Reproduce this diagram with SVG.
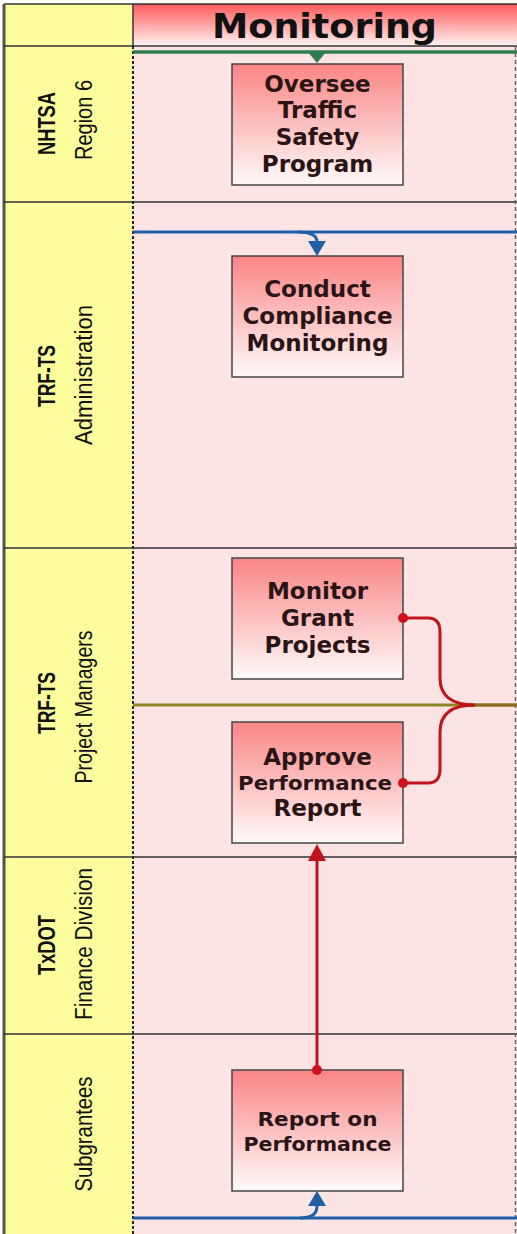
<svg xmlns="http://www.w3.org/2000/svg" width="517" height="1234" viewBox="0 0 517 1234">
<defs>
<linearGradient id="hdr" x1="0" y1="0" x2="0" y2="1">
<stop offset="0" stop-color="#ff5a5a"/>
<stop offset="1" stop-color="#fff2f2"/>
</linearGradient>
<linearGradient id="box" x1="0" y1="0" x2="0" y2="1">
<stop offset="0" stop-color="#fa8585"/>
<stop offset="1" stop-color="#fffafa"/>
</linearGradient>
<style>
.lanebg{fill:#fde4e4}
.lblbg{fill:#fdfd9e}
.lane{stroke:#333;stroke-width:1.5;fill:none}
.node rect{fill:url(#box);stroke:#444;stroke-width:1.5}
.node text{font-family:"DejaVu Sans",sans-serif;font-weight:bold;fill:#2a1414;text-anchor:middle}
.lbl{font-family:"Liberation Sans",Arial,sans-serif;font-size:23px;fill:#111;text-anchor:middle}
.lbl .b{font-weight:bold}
.red{stroke:#c0141c;stroke-width:3;fill:none}
.blue{stroke:#1f5fa8;stroke-width:3;fill:none}
.green{stroke:#2e7d4f;stroke-width:3.5;fill:none}
.olive{stroke:#8a8a24;stroke-width:3;fill:none}
</style>
</defs>

<g id="background">
<rect x="0" y="0" width="517" height="1234" fill="#ffffff"/>
<rect x="133" y="46" width="384" height="1188" class="lanebg"/>
<rect x="4" y="4" width="129" height="1230" class="lblbg"/>
<rect x="133" y="4" width="384" height="42" fill="url(#hdr)"/>
</g>

<g id="lanes">
<line x1="4" y1="4" x2="517" y2="4" class="lane"/>
<line x1="4" y1="4" x2="4" y2="1234" stroke="#555" stroke-width="3"/>
<line x1="4" y1="46" x2="517" y2="46" class="lane" stroke="#3a5a3a"/>
<line x1="4" y1="202" x2="517" y2="202" class="lane"/>
<line x1="4" y1="548" x2="517" y2="548" class="lane"/>
<line x1="4" y1="857" x2="517" y2="857" class="lane"/>
<line x1="4" y1="1034" x2="517" y2="1034" class="lane"/>
<line x1="133" y1="4" x2="133" y2="46" stroke="#333" stroke-width="1.5"/>
<line x1="133" y1="46" x2="133" y2="1234" stroke="#222" stroke-width="2" stroke-dasharray="3,2"/>
<line x1="515.5" y1="46" x2="515.5" y2="1234" stroke="#666" stroke-width="1.5" stroke-dasharray="4,3"/>
</g>

<g id="header">
<text x="324.5" y="38" font-family="DejaVu Sans, sans-serif" font-weight="bold" font-size="33" fill="#111" text-anchor="middle" textLength="225" lengthAdjust="spacingAndGlyphs">Monitoring</text>
</g>

<g id="lane-labels" class="lbl">
<text transform="translate(55,123.5) rotate(-90)" class="b" textLength="63" lengthAdjust="spacingAndGlyphs">NHTSA</text>
<text transform="translate(92,120) rotate(-90)" textLength="80" lengthAdjust="spacingAndGlyphs">Region 6</text>
<text transform="translate(55,376) rotate(-90)" class="b" textLength="62" lengthAdjust="spacingAndGlyphs">TRF-TS</text>
<text transform="translate(92,375) rotate(-90)" textLength="140" lengthAdjust="spacingAndGlyphs">Administration</text>
<text transform="translate(55,703) rotate(-90)" class="b" textLength="62" lengthAdjust="spacingAndGlyphs">TRF-TS</text>
<text transform="translate(92,707) rotate(-90)" textLength="153" lengthAdjust="spacingAndGlyphs">Project Managers</text>
<text transform="translate(55,945) rotate(-90)" class="b" textLength="60" lengthAdjust="spacingAndGlyphs">TxDOT</text>
<text transform="translate(92,944) rotate(-90)" textLength="152" lengthAdjust="spacingAndGlyphs">Finance Division</text>
<text transform="translate(92,1134) rotate(-90)" textLength="115" lengthAdjust="spacingAndGlyphs">Subgrantees</text>
</g>

<g id="node-oversee" class="node">
<rect x="232" y="64" width="171" height="121"/>
<text x="317.5" y="92" font-size="23">Oversee</text>
<text x="317.5" y="118" font-size="23">Traffic</text>
<text x="317.5" y="145" font-size="23">Safety</text>
<text x="317.5" y="172" font-size="23">Program</text>
</g>

<g id="node-conduct" class="node">
<rect x="232" y="256" width="171" height="121"/>
<text x="317.5" y="297" font-size="23">Conduct</text>
<text x="317.5" y="324" font-size="23">Compliance</text>
<text x="317.5" y="351" font-size="23">Monitoring</text>
</g>

<g id="node-monitor" class="node">
<rect x="232" y="558" width="171" height="121"/>
<text x="317.5" y="599" font-size="23">Monitor</text>
<text x="317.5" y="626" font-size="23">Grant</text>
<text x="317.5" y="653" font-size="23">Projects</text>
</g>

<g id="node-approve" class="node">
<rect x="232" y="722" width="171" height="121"/>
<text x="317.5" y="765" font-size="23">Approve</text>
<text x="315" y="790" font-size="19" textLength="154" lengthAdjust="spacingAndGlyphs">Performance</text>
<text x="317.5" y="816" font-size="23">Report</text>
</g>

<g id="node-report" class="node">
<rect x="232" y="1070" width="171" height="121"/>
<text x="317.5" y="1126" font-size="20" textLength="120" lengthAdjust="spacingAndGlyphs">Report on</text>
<text x="317.5" y="1151" font-size="20" textLength="148" lengthAdjust="spacingAndGlyphs">Performance</text>
</g>

<g id="connectors">
<line x1="133" y1="52" x2="517" y2="52" class="green"/>
<path d="M308,52 L326,52 L317,63 z" fill="#2e7d4f"/>
<line x1="133" y1="232" x2="517" y2="232" class="blue"/>
<path d="M298,232 Q317,232 317,242" class="blue"/>
<path d="M308,241 L326,241 L317,256 z" fill="#1f5fa8"/>
<line x1="133" y1="705" x2="517" y2="705" class="olive"/>
<path d="M403,618 H428 Q440,618 440,632 V678 Q440,705 475,705" class="red"/>
<path d="M403,783 H428 Q440,783 440,769 V732 Q440,705 475,705" class="red"/>
<line x1="475" y1="705" x2="517" y2="705" stroke="#8a6a24" stroke-width="3"/>
<circle cx="403" cy="618" r="5" fill="#d0101a"/>
<circle cx="403" cy="783" r="5" fill="#d0101a"/>
<line x1="317" y1="1070" x2="317" y2="858" class="red"/>
<path d="M308,861 L326,861 L317,844 z" fill="#c0141c"/>
<circle cx="317" cy="1070" r="5" fill="#d0101a"/>
<line x1="133" y1="1218" x2="517" y2="1218" class="blue"/>
<path d="M300,1218 Q317,1218 317,1206" class="blue"/>
<path d="M308,1206 L326,1206 L317,1191 z" fill="#1f5fa8"/>
</g>
</svg>
